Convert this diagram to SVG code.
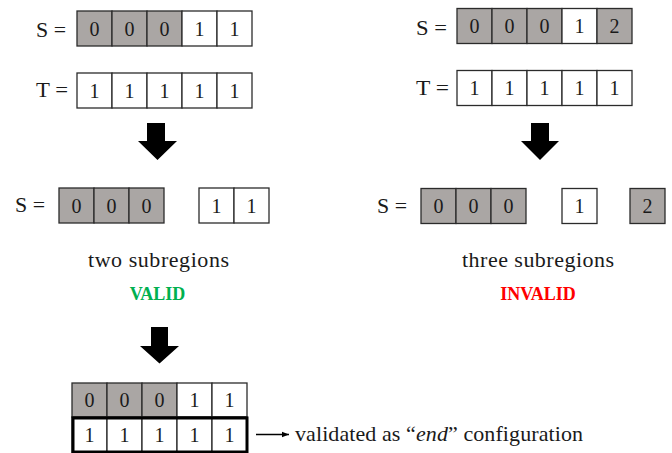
<svg xmlns="http://www.w3.org/2000/svg" width="672" height="453" viewBox="0 0 672 453">
<defs>
<style>
.c{stroke:#2b2b2b;stroke-width:1.3;fill:#fff}
.g{stroke:#2b2b2b;stroke-width:1.3;fill:#aaa6a4}
.d{font-family:"Liberation Serif",serif;font-size:20px;fill:#1a1a1a;text-anchor:middle}
.t{font-family:"Liberation Serif",serif;font-size:22px;fill:#1a1a1a}
.l{font-family:"Liberation Serif",serif;font-size:22px;fill:#1a1a1a}
.b{font-family:"Liberation Serif",serif;font-size:18px;font-weight:bold;text-anchor:middle}
.blk{fill:#000}
</style>
<marker id="ah" viewBox="0 0 10 10" refX="10" refY="5" markerWidth="7" markerHeight="7" markerUnits="userSpaceOnUse" orient="auto">
<path d="M0,1 L10,5 L0,9 Z" fill="#000"/>
</marker>
</defs>
<rect width="672" height="453" fill="#fff"/>

<g id="left-S">
<text class="t" x="36" y="37" textLength="30" lengthAdjust="spacingAndGlyphs">S =</text>
<rect class="g" x="77" y="11" width="35" height="35"/>
<rect class="g" x="112" y="11" width="35" height="35"/>
<rect class="g" x="147" y="11" width="35" height="35"/>
<rect class="c" x="182" y="11" width="35" height="35"/>
<rect class="c" x="217" y="11" width="35" height="35"/>
<text class="d" x="94.5" y="35.5">0</text><text class="d" x="129.5" y="35.5">0</text><text class="d" x="164.5" y="35.5">0</text><text class="d" x="199.5" y="35.5">1</text><text class="d" x="234.5" y="35.5">1</text>
</g>

<g id="left-T">
<text class="t" x="36" y="97" textLength="32" lengthAdjust="spacingAndGlyphs">T =</text>
<rect class="c" x="77" y="73" width="35" height="35"/>
<rect class="c" x="112" y="73" width="35" height="35"/>
<rect class="c" x="147" y="73" width="35" height="35"/>
<rect class="c" x="182" y="73" width="35" height="35"/>
<rect class="c" x="217" y="73" width="35" height="35"/>
<text class="d" x="94.5" y="97.5">1</text><text class="d" x="129.5" y="97.5">1</text><text class="d" x="164.5" y="97.5">1</text><text class="d" x="199.5" y="97.5">1</text><text class="d" x="234.5" y="97.5">1</text>
</g>

<g id="right-S">
<text class="t" x="416" y="34.5" textLength="31" lengthAdjust="spacingAndGlyphs">S =</text>
<rect class="g" x="457" y="8.5" width="35" height="35"/>
<rect class="g" x="492" y="8.5" width="35" height="35"/>
<rect class="g" x="527" y="8.5" width="35" height="35"/>
<rect class="c" x="562" y="8.5" width="35" height="35"/>
<rect class="g" x="597" y="8.5" width="35" height="35"/>
<text class="d" x="474.5" y="33">0</text><text class="d" x="509.5" y="33">0</text><text class="d" x="544.5" y="33">0</text><text class="d" x="579.5" y="33">1</text><text class="d" x="614.5" y="33">2</text>
</g>

<g id="right-T">
<text class="t" x="416" y="95" textLength="33" lengthAdjust="spacingAndGlyphs">T =</text>
<rect class="c" x="457" y="70.5" width="35" height="35"/>
<rect class="c" x="492" y="70.5" width="35" height="35"/>
<rect class="c" x="527" y="70.5" width="35" height="35"/>
<rect class="c" x="562" y="70.5" width="35" height="35"/>
<rect class="c" x="597" y="70.5" width="35" height="35"/>
<text class="d" x="474.5" y="95">1</text><text class="d" x="509.5" y="95">1</text><text class="d" x="544.5" y="95">1</text><text class="d" x="579.5" y="95">1</text><text class="d" x="614.5" y="95">1</text>
</g>

<g id="left-split">
<text class="t" x="15" y="212" textLength="30" lengthAdjust="spacingAndGlyphs">S =</text>
<rect class="g" x="59" y="188" width="35" height="35"/>
<rect class="g" x="94" y="188" width="35" height="35"/>
<rect class="g" x="129" y="188" width="35" height="35"/>
<rect class="c" x="199" y="188" width="35" height="35"/>
<rect class="c" x="234" y="188" width="35" height="35"/>
<text class="d" x="76.5" y="212.5">0</text><text class="d" x="111.5" y="212.5">0</text><text class="d" x="146.5" y="212.5">0</text><text class="d" x="216.5" y="212.5">1</text><text class="d" x="251.5" y="212.5">1</text>
<text class="l" x="88" y="267" textLength="141" lengthAdjust="spacing">two subregions</text>
<text class="b" x="157.5" y="300" fill="#00b050">VALID</text>
</g>

<g id="right-split">
<text class="t" x="377" y="213" textLength="30" lengthAdjust="spacingAndGlyphs">S =</text>
<rect class="g" x="421" y="188.5" width="35" height="35"/>
<rect class="g" x="456" y="188.5" width="35" height="35"/>
<rect class="g" x="491" y="188.5" width="35" height="35"/>
<rect class="c" x="562" y="188.5" width="35" height="35"/>
<rect class="g" x="630" y="188.5" width="35" height="35"/>
<text class="d" x="438.5" y="213">0</text><text class="d" x="473.5" y="213">0</text><text class="d" x="508.5" y="213">0</text><text class="d" x="579.5" y="213">1</text><text class="d" x="647.5" y="213">2</text>
<text class="l" x="462" y="267" textLength="152" lengthAdjust="spacing">three subregions</text>
<text class="b" x="538" y="300" fill="#ff0000">INVALID</text>
</g>

<g id="end-config">
<rect class="g" x="72" y="383" width="35" height="34"/>
<rect class="g" x="107" y="383" width="35" height="34"/>
<rect class="g" x="142" y="383" width="35" height="34"/>
<rect class="c" x="177" y="383" width="35" height="34"/>
<rect class="c" x="212" y="383" width="35" height="34"/>
<text class="d" x="89.5" y="407">0</text><text class="d" x="124.5" y="407">0</text><text class="d" x="159.5" y="407">0</text><text class="d" x="194.5" y="407">1</text><text class="d" x="229.5" y="407">1</text>
<rect class="c" x="72" y="417" width="35" height="36"/>
<rect class="c" x="107" y="417" width="35" height="36"/>
<rect class="c" x="142" y="417" width="35" height="36"/>
<rect class="c" x="177" y="417" width="35" height="36"/>
<rect class="c" x="212" y="417" width="35" height="36"/>
<rect x="73" y="418" width="174" height="34" fill="none" stroke="#000" stroke-width="3"/>
<text class="d" x="89.5" y="441.5">1</text><text class="d" x="124.5" y="441.5">1</text><text class="d" x="159.5" y="441.5">1</text><text class="d" x="194.5" y="441.5">1</text><text class="d" x="229.5" y="441.5">1</text>
<text class="l" x="295" y="441" textLength="288" lengthAdjust="spacing">validated as “<tspan font-style="italic">end</tspan>” configuration</text>
</g>

<g id="connectors">
<path class="blk" d="M147,123 H165 V141 H177 L157.5,160 L138,141 H147 Z"/>
<path class="blk" d="M531,123 H549 V141 H559 L540,160 L521,141 H531 Z"/>
<path class="blk" d="M151,327 H168 V346 H179 L159.5,363.5 L140,346 H151 Z"/>
<line x1="256" y1="434.5" x2="289" y2="434.5" stroke="#000" stroke-width="1.3" marker-end="url(#ah)"/>
</g>
</svg>
